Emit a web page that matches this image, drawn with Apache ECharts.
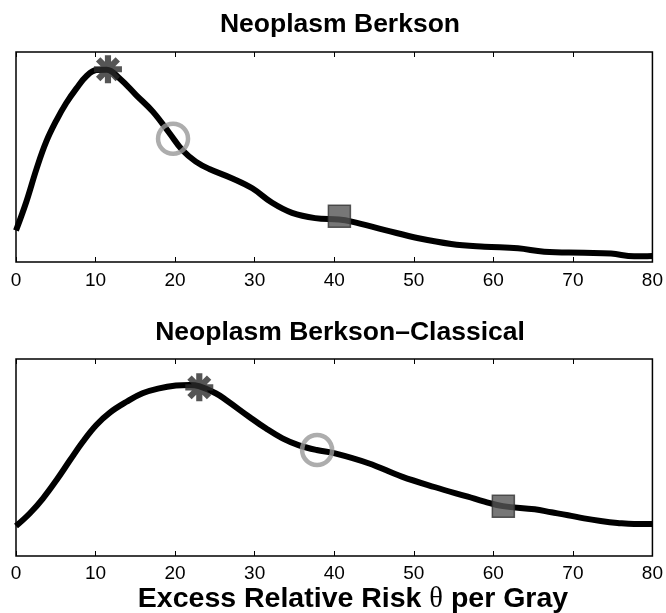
<!DOCTYPE html>
<html>
<head>
<meta charset="utf-8">
<script src="https://cdn.jsdelivr.net/npm/echarts@6/dist/echarts.min.js"></script>
<style>
  html, body { margin: 0; padding: 0; background: #fff; }
  #chart { width: 666px; height: 613px; }
</style>
</head>
<body>
<div id="chart"></div>
<script>
// x ticks shared by both panels
var xTicks = [0, 10, 20, 30, 40, 50, 60, 70, 80];

// top panel: Neoplasm Berkson (density, arbitrary 0-100 scale)
var berksonX = [0, 1.3, 2.6, 3.8, 5.1, 6.3, 7.6, 8.9, 10.1, 11.4, 13.0, 15.1, 17.2, 19.3, 20.9, 22.6, 24.3,
  27.2, 29.7, 32.2, 34.7, 37.6, 40.6, 42.2, 46.4, 50.6, 54.7, 58.9, 63.1, 66.4, 71.4, 74.8, 77.7, 80];
var berksonY = [15, 28.7, 44.6, 57.3, 67.6, 75.6, 82.7, 88.7, 91.4, 91.6, 87.5, 79.5, 71.6, 61.3, 53.3, 47.8, 44.3,
  39.8, 35.1, 28.2, 23.4, 20.9, 20.2, 19.2, 15.2, 11.3, 8.6, 7.3, 6.5, 4.9, 4.4, 4.0, 2.7, 2.9];

// bottom panel: Neoplasm Berkson-Classical
var classicalX = [0, 1.75, 3.4, 5.1, 6.8, 8.4, 10.1, 11.8, 13.9, 15.9, 18.0, 20.1, 21.8, 23.0, 25.1, 26.4, 29.3, 31.4, 33.5,
  35.5, 37.8, 40.1, 44.3, 48.5, 52.7, 56.8, 58.9, 61.2, 65.2, 67.3, 69.4, 71.4, 73.5, 75.6, 77.7, 80];
var classicalY = [15.2, 21.7, 29.3, 38.6, 48.7, 58, 66.5, 72.8, 78.3, 82.6, 85.1, 86.5, 86.8, 86.2, 82.6, 79.2, 70.7, 64.8, 59.7,
  56.3, 53.8, 52.1, 47.1, 40.3, 34.9, 30.1, 27.6, 25.3, 23.7, 22.2, 20.7, 19.1, 17.8, 16.8, 16.2, 16.2];

// marker positions [x, y]: asterisk, circle, square
var berksonStar = [11.56, 91.8];
var berksonCircle = [19.74, 58.7];
var berksonSquare = [40.65, 21.8];
var classicalStar = [23.04, 85.6];
var classicalCircle = [37.85, 53.8];
var classicalSquare = [61.26, 25.2];

var FONT = 'Liberation Sans, Arial, Helvetica, sans-serif';
var ASTERISK = 'path://M39,0L61,0L61,100L39,100Z M0,39L100,39L100,61L0,61Z ' +
  'M22.8,7.2L92.8,77.2L77.2,92.8L7.2,22.8Z M92.8,22.8L22.8,92.8L7.2,77.2L77.2,7.2Z';

function zip(xs, ys) {
  return xs.map(function (x, i) { return [x, ys[i]]; });
}

function bottomAxis(grid, margin) {
  return {
    type: 'value', gridIndex: grid, position: 'bottom',
    min: xTicks[0], max: xTicks[xTicks.length - 1], interval: 10,
    axisLine: { show: false },
    axisTick: { show: true, inside: true, length: 5, lineStyle: { color: '#000', width: 1 } },
    axisLabel: { show: true, margin: margin, color: '#000', fontSize: 19, fontFamily: FONT },
    splitLine: { show: false }
  };
}
function topAxis(grid) {
  return {
    type: 'value', gridIndex: grid, position: 'top',
    min: 0, max: 80, interval: 10,
    axisLine: { show: false },
    axisTick: { show: true, inside: true, length: 5, lineStyle: { color: '#000', width: 1 } },
    axisLabel: { show: false },
    splitLine: { show: false }
  };
}
function yAxis(grid) {
  return {
    type: 'value', gridIndex: grid, min: 0, max: 100,
    axisLine: { show: false }, axisTick: { show: false },
    axisLabel: { show: false }, splitLine: { show: false }
  };
}
function curve(idx, data) {
  return {
    type: 'line', xAxisIndex: idx * 2, yAxisIndex: idx, data: data,
    smooth: 0.4, showSymbol: false, silent: true,
    lineStyle: { color: '#000', width: 6 }, z: 2
  };
}
function marker(idx, pt, kind) {
  var s = {
    type: 'scatter', xAxisIndex: idx * 2, yAxisIndex: idx, data: [pt], silent: true, z: 5
  };
  if (kind === 'star') {
    s.symbol = ASTERISK; s.symbolSize = 28;
    s.itemStyle = { color: '#2b2b2b' };
  } else if (kind === 'circle') {
    s.symbol = 'circle'; s.symbolSize = 30;
    s.itemStyle = { color: 'rgba(0,0,0,0)', borderColor: '#999', borderWidth: 4.5 };
  } else {
    s.symbol = 'rect'; s.symbolSize = 22;
    s.itemStyle = { color: '#555', borderColor: '#333', borderWidth: 1.5 };
  }
  return s;
}

var chart = echarts.init(document.getElementById('chart'), null, { renderer: 'canvas' });
chart.setOption({
  backgroundColor: '#fff',
  animation: false,
  title: [
    { text: 'Neoplasm Berkson', left: 335, top: 6, textAlign: 'center',
      textStyle: { fontSize: 26.5, fontWeight: 'bold', color: '#000', fontFamily: FONT } },
    { text: 'Neoplasm Berkson\u2013Classical', left: 335, top: 314, textAlign: 'center',
      textStyle: { fontSize: 26.5, fontWeight: 'bold', color: '#000', fontFamily: FONT } },
    { text: '{a|Excess Relative Risk }{t|\u03b8}{a| per Gray}', left: 348, top: 580, textAlign: 'center',
      textStyle: {
        fontSize: 28.5, fontWeight: 'bold', color: '#000', fontFamily: FONT,
        rich: {
          a: { fontSize: 28.5, lineHeight: 28.5, fontWeight: 'bold', color: '#000', fontFamily: FONT },
          t: { fontSize: 28.5, lineHeight: 28.5, fontWeight: 'normal', color: '#000', fontFamily: 'Liberation Serif, serif' }
        }
      } }
  ],
  grid: [
    { left: 16, right: 11, top: 52, height: 210, show: true, borderColor: '#000', borderWidth: 1.5, backgroundColor: 'transparent' },
    { left: 16, right: 11, top: 359, height: 197, show: true, borderColor: '#000', borderWidth: 1.5, backgroundColor: 'transparent' }
  ],
  xAxis: [bottomAxis(0, 9), topAxis(0), bottomAxis(1, 8), topAxis(1)],
  yAxis: [yAxis(0), yAxis(1)],
  series: [
    curve(0, zip(berksonX, berksonY)),
    marker(0, berksonStar, 'star'),
    marker(0, berksonCircle, 'circle'),
    marker(0, berksonSquare, 'square'),
    curve(1, zip(classicalX, classicalY)),
    marker(1, classicalStar, 'star'),
    marker(1, classicalCircle, 'circle'),
    marker(1, classicalSquare, 'square')
  ]
});
</script>
</body>
</html>
